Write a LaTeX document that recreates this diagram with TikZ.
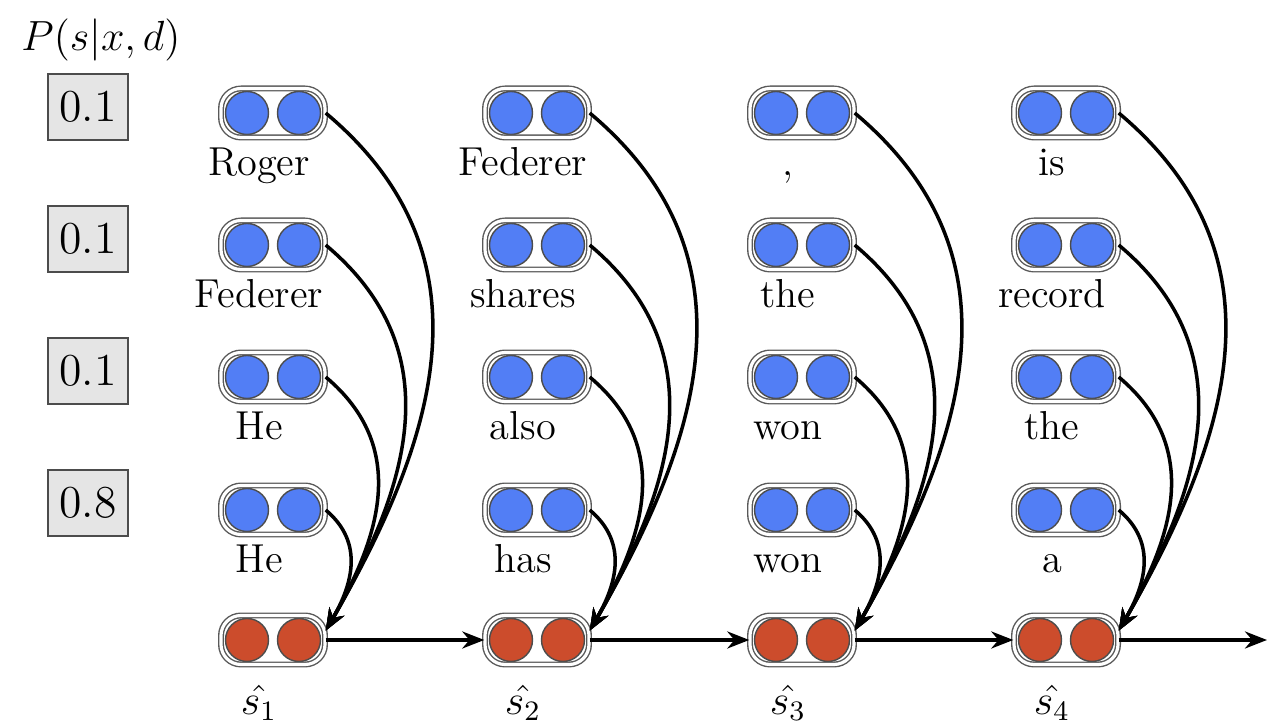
\documentclass[tikz,border=0pt]{standalone}
\usepackage{xcolor}
\usepackage{amsfonts}
\usepackage{amsmath}
\usepackage{tikz}
\usetikzlibrary{arrows.meta}

\definecolor{cellblue}{RGB}{82,126,245}
\definecolor{cellred}{RGB}{204,76,44}

\begin{document}
\begin{tikzpicture}[
    cell/.style={draw=black!65, line width=0.4pt, double=white, double distance=0.9pt,
      rounded corners=0.2cm, minimum width=1.04cm, minimum height=0.49cm, inner sep=0pt,
      path picture={
        \filldraw[fill=#1, draw=black!70, line width=0.4pt]
          ([xshift=-0.26cm]path picture bounding box.center) circle (0.215cm);
        \filldraw[fill=#1, draw=black!70, line width=0.4pt]
          ([xshift=0.26cm]path picture bounding box.center) circle (0.215cm);
      }},
    prob/.style={draw=black!70, fill=black!10, line width=0.5pt, minimum width=0.8cm,
      minimum height=0.66cm, inner sep=1pt, font=\fontsize{13}{15}\selectfont},
    word/.style={anchor=base, inner sep=1pt, font=\fontsize{11.5}{13}\selectfont},
    link/.style={line width=1pt, -{Stealth[length=2.2mm,width=1.7mm]}},
    feed/.style={out=-40, in=60, looseness=1.1}
  ]

  \useasboundingbox (0,0) rectangle (12.67,7.25);

  \node[font=\fontsize{12}{14}\selectfont] (plabel) at (1.01,6.85) {$P(s|x,d)$};

  \node[prob] (p1) at (0.88,6.18) {0.1};
  \node[prob] (p2) at (0.88,4.86) {0.1};
  \node[prob] (p3) at (0.88,3.54) {0.1};
  \node[prob] (p4) at (0.88,2.22) {0.8};

  \node[cell=cellblue] (b11) at (2.73,6.12) {};
  \node[cell=cellblue] (b12) at (5.37,6.12) {};
  \node[cell=cellblue] (b13) at (8.02,6.12) {};
  \node[cell=cellblue] (b14) at (10.66,6.12) {};

  \node[cell=cellblue] (b21) at (2.73,4.80) {};
  \node[cell=cellblue] (b22) at (5.37,4.80) {};
  \node[cell=cellblue] (b23) at (8.02,4.80) {};
  \node[cell=cellblue] (b24) at (10.66,4.80) {};

  \node[cell=cellblue] (b31) at (2.73,3.48) {};
  \node[cell=cellblue] (b32) at (5.37,3.48) {};
  \node[cell=cellblue] (b33) at (8.02,3.48) {};
  \node[cell=cellblue] (b34) at (10.66,3.48) {};

  \node[cell=cellblue] (b41) at (2.73,2.15) {};
  \node[cell=cellblue] (b42) at (5.37,2.15) {};
  \node[cell=cellblue] (b43) at (8.02,2.15) {};
  \node[cell=cellblue] (b44) at (10.66,2.15) {};

  \node[cell=cellred] (s1) at (2.73,0.85) {};
  \node[cell=cellred] (s2) at (5.37,0.85) {};
  \node[cell=cellred] (s3) at (8.02,0.85) {};
  \node[cell=cellred] (s4) at (10.66,0.85) {};

  \node[word] (w11) at (2.59,5.49) {Roger};
  \node[word] (w12) at (5.23,5.49) {Federer};
  \node[word] (w13) at (7.88,5.49) {,};
  \node[word] (w14) at (10.52,5.49) {is};

  \node[word] (w21) at (2.59,4.17) {Federer};
  \node[word] (w22) at (5.23,4.17) {shares};
  \node[word] (w23) at (7.88,4.17) {the};
  \node[word] (w24) at (10.52,4.17) {record};

  \node[word] (w31) at (2.59,2.85) {He};
  \node[word] (w32) at (5.23,2.85) {also};
  \node[word] (w33) at (7.88,2.85) {won};
  \node[word] (w34) at (10.52,2.85) {the};

  \node[word] (w41) at (2.59,1.52) {He};
  \node[word] (w42) at (5.23,1.52) {has};
  \node[word] (w43) at (7.88,1.52) {won};
  \node[word] (w44) at (10.52,1.52) {a};

  \node[font=\fontsize{11.5}{13}\selectfont] (h1) at (2.59,0.22) {$\hat{s_1}$};
  \node[font=\fontsize{11.5}{13}\selectfont] (h2) at (5.23,0.22) {$\hat{s_2}$};
  \node[font=\fontsize{11.5}{13}\selectfont] (h3) at (7.88,0.22) {$\hat{s_3}$};
  \node[font=\fontsize{11.5}{13}\selectfont] (h4) at (10.52,0.22) {$\hat{s_4}$};

  \draw[link] (b11.east) to[feed] (s1.10);
  \draw[link] (b21.east) to[feed] (s1.10);
  \draw[link] (b31.east) to[feed] (s1.10);
  \draw[link] (b41.east) to[feed] (s1.10);

  \draw[link] (b12.east) to[feed] (s2.10);
  \draw[link] (b22.east) to[feed] (s2.10);
  \draw[link] (b32.east) to[feed] (s2.10);
  \draw[link] (b42.east) to[feed] (s2.10);

  \draw[link] (b13.east) to[feed] (s3.10);
  \draw[link] (b23.east) to[feed] (s3.10);
  \draw[link] (b33.east) to[feed] (s3.10);
  \draw[link] (b43.east) to[feed] (s3.10);

  \draw[link] (b14.east) to[feed] (s4.10);
  \draw[link] (b24.east) to[feed] (s4.10);
  \draw[link] (b34.east) to[feed] (s4.10);
  \draw[link] (b44.east) to[feed] (s4.10);

  \coordinate (out) at (12.67,0.85);
  \draw[link] (s1) -- (s2);
  \draw[link] (s2) -- (s3);
  \draw[link] (s3) -- (s4);
  \draw[link] (s4) -- (out);
\end{tikzpicture}
\end{document}
